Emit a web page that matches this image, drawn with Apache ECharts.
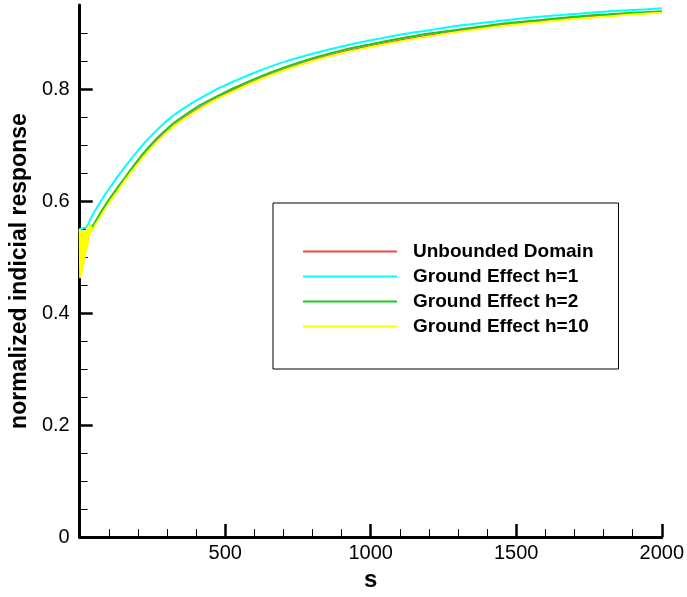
<!DOCTYPE html>
<html>
<head>
<meta charset="utf-8">
<script src="https://cdn.jsdelivr.net/npm/echarts@6/dist/echarts.min.js"></script>
<style>
  html, body { margin: 0; padding: 0; background: #fff; }
  #chart { width: 687px; height: 597px; }
</style>
</head>
<body>
<div id="chart"></div>
<script>
// Indicial response vs. reduced time s, free flight vs. ground effect.
const seriesNames = ['Unbounded Domain', 'Ground Effect h=1', 'Ground Effect h=2', 'Ground Effect h=10'];

// Shared sampling of the smooth part of the curves
const sSmooth = [50, 60, 80, 100, 130, 160, 200, 230, 260, 290, 330, 380, 420, 480, 540,
                 620, 700, 800, 900, 1000, 1100, 1200, 1300, 1400, 1500, 1600, 1700, 1800, 1900, 2000];

// Unbounded domain
const sUnboundedStart = [0, 2, 4, 6, 8, 10, 12, 14, 16, 18, 21, 25, 30, 35, 40, 45];
const vUnboundedStart = [0.545, 0.520, 0.545, 0.525, 0.544, 0.529, 0.543, 0.532, 0.543, 0.535, 0.542, 0.540, 0.543, 0.546, 0.549, 0.552];
const vUnbounded = [0.556, 0.565, 0.582, 0.598, 0.620, 0.642, 0.669, 0.688, 0.705, 0.720, 0.738, 0.756, 0.769, 0.786, 0.801,
                    0.819, 0.835, 0.852, 0.866, 0.877, 0.887, 0.896, 0.904, 0.911, 0.917, 0.922, 0.927, 0.931, 0.934, 0.937];

// Ground effect h=1
const sH1Start = [0, 5, 10, 15, 20, 25, 30, 35, 40, 45];
const vH1Start = [0.552, 0.548, 0.552, 0.549, 0.552, 0.554, 0.559, 0.565, 0.571, 0.576];
const vH1 = [0.581, 0.589, 0.606, 0.621, 0.643, 0.664, 0.690, 0.708, 0.724, 0.739, 0.756, 0.773, 0.785, 0.802, 0.816,
             0.833, 0.848, 0.863, 0.876, 0.887, 0.897, 0.905, 0.913, 0.919, 0.925, 0.930, 0.934, 0.938, 0.941, 0.944];

// Ground effect h=2
const sH2Start = [0, 3, 6, 9, 12, 15, 18, 21, 25, 30, 35, 40, 45];
const vH2Start = [0.548, 0.532, 0.546, 0.536, 0.545, 0.539, 0.545, 0.541, 0.544, 0.545, 0.548, 0.552, 0.556];
const vH2 = [0.560, 0.569, 0.586, 0.602, 0.624, 0.645, 0.673, 0.692, 0.709, 0.724, 0.742, 0.760, 0.773, 0.789, 0.804,
             0.822, 0.838, 0.855, 0.869, 0.880, 0.890, 0.899, 0.906, 0.913, 0.919, 0.924, 0.929, 0.933, 0.936, 0.939];

// Ground effect h=10 (strong initial oscillation)
const sH10Start = [0, 1.5, 3, 4.5, 6, 7.5, 9, 10.5, 12, 13.5, 15, 16.5, 18, 19.5, 21, 22.5, 24, 25.5,
                   27, 28.5, 30, 31.5, 33, 34.5, 36, 38, 40, 43, 46];
const vH10Start = [0.550, 0.462, 0.548, 0.466, 0.547, 0.472, 0.546, 0.479, 0.546, 0.487, 0.546, 0.495, 0.547, 0.503,
                   0.548, 0.511, 0.550, 0.518, 0.552, 0.525, 0.554, 0.532, 0.557, 0.539, 0.560, 0.546, 0.553, 0.549, 0.552];
const vH10 = [0.554, 0.563, 0.580, 0.596, 0.618, 0.640, 0.667, 0.686, 0.703, 0.718, 0.736, 0.754, 0.767, 0.784, 0.799,
              0.817, 0.833, 0.850, 0.864, 0.875, 0.885, 0.894, 0.902, 0.909, 0.915, 0.920, 0.925, 0.929, 0.933, 0.936];

// Axis ticks
const yMajorTicks = [0, 0.2, 0.4, 0.6, 0.8];
const yMinorTicks = [0.05, 0.1, 0.15, 0.25, 0.3, 0.35, 0.45, 0.5, 0.55, 0.65, 0.7, 0.75, 0.85, 0.9];

const colors = ['#f04848', '#00ffff', '#1fc81f', '#ffff00'];
const widths = [1.5, 2, 2, 2];

const startS = [sUnboundedStart, sH1Start, sH2Start, sH10Start];
const startV = [vUnboundedStart, vH1Start, vH2Start, vH10Start];
const mainV = [vUnbounded, vH1, vH2, vH10];

function zip(s, v) { return s.map((x, i) => [x, v[i]]); }

const FONT = 'Liberation Sans';
const chart = echarts.init(document.getElementById('chart'), null, { renderer: 'canvas' });

// Each curve: a raw polyline for the oscillating start, a smoothed line for the rest
const series = [];
seriesNames.forEach((n, i) => {
  const head = zip(startS[i], startV[i]).concat([[sSmooth[0], mainV[i][0]]]);
  const body = zip(sSmooth, mainV[i]);
  const common = {
    name: n, type: 'line', yAxisIndex: 0, showSymbol: false, symbol: 'none',
    lineStyle: { color: colors[i], width: widths[i] },
    itemStyle: { color: colors[i] }, z: 2 + i
  };
  series.push(Object.assign({}, common, { data: head, smooth: false }));
  series.push(Object.assign({}, common, { data: body, smooth: 0.35 }));
});

chart.setOption({
  animation: false,
  backgroundColor: '#fff',
  grid: { left: 76, right: 21, top: 5, bottom: 53, containLabel: false },
  legend: {
    orient: 'vertical',
    left: 273,
    top: 203,
    padding: [36, 25, 30, 30],
    backgroundColor: '#fff',
    borderColor: '#000',
    borderWidth: 1,
    itemWidth: 94,
    itemHeight: 2,
    itemGap: 0,
    icon: 'rect',
    selectedMode: false,
    textStyle: {
      fontFamily: FONT, fontSize: 19, fontWeight: 'bold', color: '#000',
      lineHeight: 25, padding: [0, 0, 0, 11]
    },
    data: seriesNames.map((n, i) => ({ name: n, itemStyle: { color: colors[i] } }))
  },
  xAxis: {
    type: 'value',
    min: 0, max: 2000, interval: 500,
    name: 's',
    nameLocation: 'middle',
    nameGap: 30,
    nameTextStyle: { fontFamily: FONT, fontSize: 24, fontWeight: 'bold', color: '#000' },
    axisLine: { show: true, onZero: false, lineStyle: { color: '#000', width: 3 } },
    axisTick: { show: true, inside: true, length: 13, lineStyle: { color: '#000', width: 2.5 } },
    minorTick: { show: true, splitNumber: 5, length: 8, lineStyle: { color: '#000', width: 1 } },
    axisLabel: {
      showMinLabel: false, margin: 6, fontFamily: FONT, fontSize: 20, color: '#000',
      formatter: v => String(v)
    },
    splitLine: { show: false },
    minorSplitLine: { show: false }
  },
  yAxis: [
    {
      type: 'value',
      min: 0, max: 0.95,
      name: 'normalized indicial response',
      nameLocation: 'middle',
      nameRotate: 90,
      nameGap: 44,
      nameTextStyle: { fontFamily: FONT, fontSize: 23, fontWeight: 'bold', color: '#000' },
      axisLine: { show: true, onZero: false, lineStyle: { color: '#000', width: 3 } },
      axisTick: { show: true, inside: true, length: 13, customValues: yMajorTicks, lineStyle: { color: '#000', width: 2.5 } },
      axisLabel: {
        customValues: yMajorTicks, margin: 10, fontFamily: FONT, fontSize: 20, color: '#000',
        formatter: v => String(Math.round(v * 10) / 10)
      },
      splitLine: { show: false }
    },
    {
      type: 'value',
      min: 0, max: 0.95,
      position: 'left',
      axisLine: { show: false },
      axisTick: { show: true, inside: true, length: 8, customValues: yMinorTicks, lineStyle: { color: '#000', width: 1 } },
      axisLabel: { show: false },
      splitLine: { show: false }
    }
  ],
  series: series
});
</script>
</body>
</html>
